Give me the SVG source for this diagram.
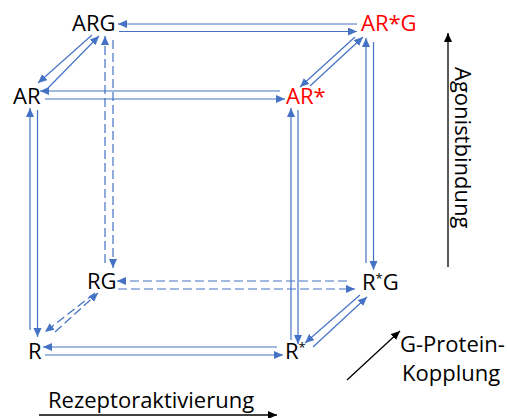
<svg xmlns="http://www.w3.org/2000/svg" width="507" height="418" viewBox="0 0 507 418">
  <defs>
    <marker id="ah" markerUnits="userSpaceOnUse" markerWidth="10" markerHeight="10" refX="9" refY="4" orient="auto">
      <path d="M0,0 L9,4 L0,8 Z" fill="#4472C4"/>
    </marker>
    <marker id="ahk" markerUnits="userSpaceOnUse" markerWidth="10" markerHeight="10" refX="9" refY="4" orient="auto">
      <path d="M0,0 L9,4 L0,8 Z" fill="#000"/>
    </marker>
  </defs>
  <style>
    .c { stroke: #4472C4; stroke-width: 1.2; fill: none; marker-end: url(#ah); }
    .d { stroke-dasharray: 9 4; }
    .ax { stroke: #000; stroke-width: 1.3; fill: none; marker-end: url(#ahk); }
    text { font-family: "Open Sans", "Noto Sans", "DejaVu Sans", sans-serif; font-size: 22px; fill: #000; }
    .red { fill: #FF0000; }
    .sup { font-size: 13px; }
  </style>
  <rect width="507" height="418" fill="#fff"/>

  <g id="connectors">
    <!-- top edge ARG <-> AR*G -->
    <line class="c" x1="357" y1="24" x2="118" y2="24"/>
    <line class="c" x1="119" y1="31.5" x2="357" y2="31.5"/>
    <!-- AR <-> AR* -->
    <line class="c" x1="280" y1="91" x2="40" y2="91"/>
    <line class="c" x1="45" y1="99" x2="285" y2="99"/>
    <!-- R <-> R* -->
    <line class="c" x1="277" y1="347" x2="43" y2="347"/>
    <line class="c" x1="45" y1="355" x2="283" y2="355"/>
    <!-- RG <-> R*G (dashed) -->
    <line class="c d" x1="347" y1="281" x2="117" y2="281"/>
    <line class="c d" x1="118" y1="289" x2="355" y2="289"/>
    <!-- AR <-> R -->
    <line class="c" x1="30" y1="330" x2="30" y2="108"/>
    <line class="c" x1="37.5" y1="110" x2="37.5" y2="337"/>
    <!-- AR* <-> R* -->
    <line class="c" x1="291" y1="340" x2="291" y2="108"/>
    <line class="c" x1="298" y1="110" x2="298" y2="344"/>
    <!-- AR*G <-> R*G -->
    <line class="c" x1="366" y1="263" x2="366" y2="38"/>
    <line class="c" x1="373.5" y1="42" x2="373.5" y2="270"/>
    <!-- ARG <-> RG (dashed) -->
    <line class="c d" x1="105" y1="263" x2="105" y2="36"/>
    <line class="c d" x1="113" y1="40" x2="113" y2="268"/>
    <!-- ARG <-> AR -->
    <line class="c" x1="92" y1="35" x2="38" y2="83"/>
    <line class="c" x1="48" y1="88" x2="99" y2="36"/>
    <!-- AR*G <-> AR* -->
    <line class="c" x1="355" y1="37" x2="300" y2="87"/>
    <line class="c" x1="310" y1="86" x2="363" y2="37"/>
    <!-- R*G <-> R* -->
    <line class="c" x1="360" y1="295" x2="305" y2="343"/>
    <line class="c" x1="313" y1="347" x2="367" y2="297"/>
    <!-- RG <-> R (dashed) -->
    <line class="c d" x1="95" y1="293" x2="45" y2="332"/>
    <line class="c d" x1="55" y1="332" x2="98" y2="293"/>
  </g>

  <g id="axes">
    <line class="ax" x1="448" y1="267" x2="448" y2="33"/>
    <line class="ax" x1="39" y1="415" x2="277" y2="415"/>
    <line class="ax" x1="347" y1="380" x2="400" y2="331"/>
  </g>

  <g id="node-ARG"><text x="72" y="31">ARG</text></g>
  <g id="node-AR"><text x="13" y="104">AR</text></g>
  <g id="node-ARstar"><text class="red" x="286" y="104">AR*</text></g>
  <g id="node-ARstarG"><text class="red" x="361" y="31">AR*G</text></g>
  <g id="node-RG"><text x="87" y="289">RG</text></g>
  <g id="node-R"><text x="28" y="359">R</text></g>
  <g id="node-Rstar"><text x="285" y="359">R<tspan class="sup" dy="-7">*</tspan></text></g>
  <g id="node-RstarG"><text x="362" y="290">R<tspan class="sup" dy="-7">*</tspan><tspan dy="7">G</tspan></text></g>

  <g id="labels">
    <text transform="translate(455,67) rotate(90)">Agonistbindung</text>
    <text x="48" y="408">Rezeptoraktivierung</text>
    <text x="400" y="352">G-Protein-</text>
    <text x="402" y="381">Kopplung</text>
  </g>
</svg>
